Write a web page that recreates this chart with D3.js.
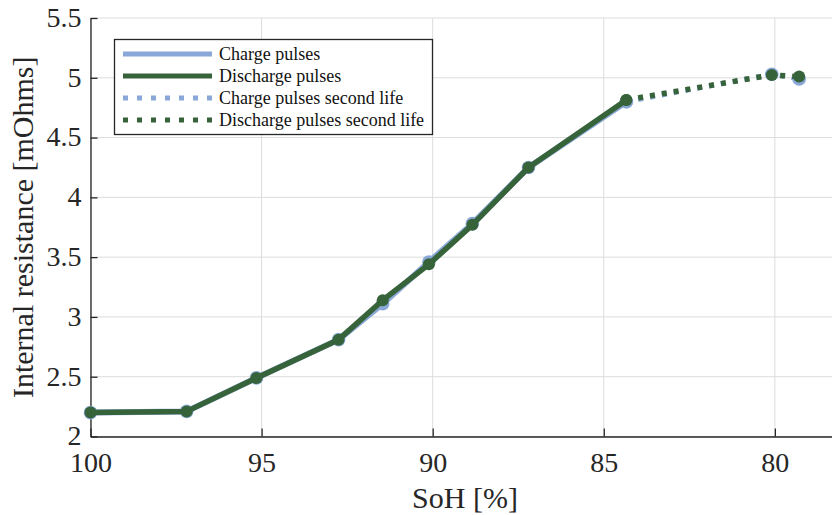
<!DOCTYPE html>
<html>
<head>
<meta charset="utf-8">
<script src="https://cdn.jsdelivr.net/npm/d3@7"></script>
<style>
  html, body { margin: 0; padding: 0; background: #fff; }
  svg { display: block; font-family: "Liberation Serif", "Times New Roman", serif; }
</style>
</head>
<body>
<svg id="chart" width="832" height="515"></svg>
<script>
// State of health (%) and internal resistance (mOhms), first life
const sohFirst = [100, 97.19, 95.15, 92.75, 91.46, 90.11, 88.84, 87.2, 84.34];
const chargeFirst = [2.20, 2.21, 2.49, 2.81, 3.11, 3.46, 3.78, 4.25, 4.80];
const dischargeFirst = [2.20, 2.21, 2.49, 2.81, 3.14, 3.44, 3.77, 4.25, 4.815];

// Second life continues from the last first-life point
const sohSecond = [84.34, 80.09, 79.29];
const chargeSecond = [4.80, 5.03, 4.99];
const dischargeSecond = [4.815, 5.024, 5.01];

const xTicks = [100, 95, 90, 85, 80];
const yTicks = [2, 2.5, 3, 3.5, 4, 4.5, 5, 5.5];

const legendLabels = ["Charge pulses", "Discharge pulses", "Charge pulses second life", "Discharge pulses second life"];

const blue = "#8aa8d7";
const green = "#37633a";
const ink = "#262626";

const svg = d3.select("#chart");
const margin = { left: 90.5, right: 0, top: 18, bottom: 78.5 };
const W = 832, H = 515;

const x = d3.scaleLinear().domain([100, 78.33]).range([margin.left, W - margin.right]);
const y = d3.scaleLinear().domain([2, 5.5]).range([H - margin.bottom, margin.top]);

// Grid
const grid = svg.append("g");
grid.selectAll("line.gx").data(xTicks).join("line")
  .attr("x1", d => x(d)).attr("x2", d => x(d))
  .attr("y1", y(2)).attr("y2", y(5.5))
  .attr("stroke", "#dcdcdc").attr("stroke-width", 1);
grid.selectAll("line.gy").data(yTicks).join("line")
  .attr("x1", x(100)).attr("x2", W)
  .attr("y1", d => y(d)).attr("y2", d => y(d))
  .attr("stroke", "#dcdcdc").attr("stroke-width", 1);

// Axes with inward ticks
const xAxis = d3.axisBottom(x).tickValues(xTicks).tickSizeInner(-8).tickSizeOuter(0).tickPadding(16);
const yAxis = d3.axisLeft(y).tickValues(yTicks).tickSizeInner(-7).tickSizeOuter(0).tickPadding(9)
  .tickFormat(d3.format("~g"));

const gx = svg.append("g").attr("transform", `translate(0,${y(2)})`).call(xAxis);
const gy = svg.append("g").attr("transform", `translate(${x(100)},0)`).call(yAxis);
[gx, gy].forEach(g => {
  g.attr("font-family", null).attr("font-size", null);
  g.select(".domain").attr("stroke", ink).attr("stroke-width", 1.3);
  g.selectAll(".tick line").attr("stroke", ink).attr("stroke-width", 1.3);
  g.selectAll(".tick text").attr("fill", ink).style("font-size", "28px")
    .style("font-family", "'Liberation Serif', serif");
});
gx.selectAll(".tick text").attr("dy", "0.71em");
gy.selectAll(".tick text").attr("dy", "0.3em");

// Axis titles
svg.append("text")
  .attr("x", 465).attr("y", 508)
  .attr("text-anchor", "middle").attr("fill", ink)
  .style("font-size", "30px").text("SoH [%]");
svg.append("text")
  .attr("transform", `translate(33,${(y(2) + y(5.5)) / 2}) rotate(-90)`)
  .attr("text-anchor", "middle").attr("fill", ink)
  .style("font-size", "30px").text("Internal resistance [mOhms]");

const line = d3.line().x(d => x(d[0])).y(d => y(d[1]));
const zip = (a, b) => a.map((v, i) => [v, b[i]]);

const plot = svg.append("g");

function drawSeries(soh, vals, color, width, dash, r) {
  const pts = zip(soh, vals);
  plot.append("path").datum(pts)
    .attr("d", line).attr("fill", "none")
    .attr("stroke", color).attr("stroke-width", width)
    .attr("stroke-dasharray", dash || null)
    .attr("stroke-linejoin", "round");
  plot.selectAll(null).data(pts).join("circle")
    .attr("cx", d => x(d[0])).attr("cy", d => y(d[1]))
    .attr("r", r).attr("fill", color);
}

drawSeries(sohFirst, chargeFirst, blue, 6, null, 6.8);
drawSeries(sohSecond, chargeSecond, blue, 5, "5,7", 6.8);
drawSeries(sohFirst, dischargeFirst, green, 5.5, null, 6);
drawSeries(sohSecond, dischargeSecond, green, 5.5, "5,7", 6);

// Legend
const lg = svg.append("g");
lg.append("rect").attr("x", 114.5).attr("y", 39.5).attr("width", 318).attr("height", 95)
  .attr("fill", "#fff").attr("stroke", ink).attr("stroke-width", 1.3);
const legendStyles = [
  { color: blue, dash: null },
  { color: green, dash: null },
  { color: blue, dash: "5,9" },
  { color: green, dash: "5,9" }
];
legendLabels.forEach((lab, i) => {
  const ly = 54 + i * 22;
  lg.append("line").attr("x1", 123).attr("x2", 212).attr("y1", ly).attr("y2", ly)
    .attr("stroke", legendStyles[i].color).attr("stroke-width", 5)
    .attr("stroke-dasharray", legendStyles[i].dash);
  lg.append("text").attr("x", 219).attr("y", ly).attr("dy", "0.33em")
    .attr("fill", "#111").style("font-size", "18px").text(lab);
});
</script>
</body>
</html>
